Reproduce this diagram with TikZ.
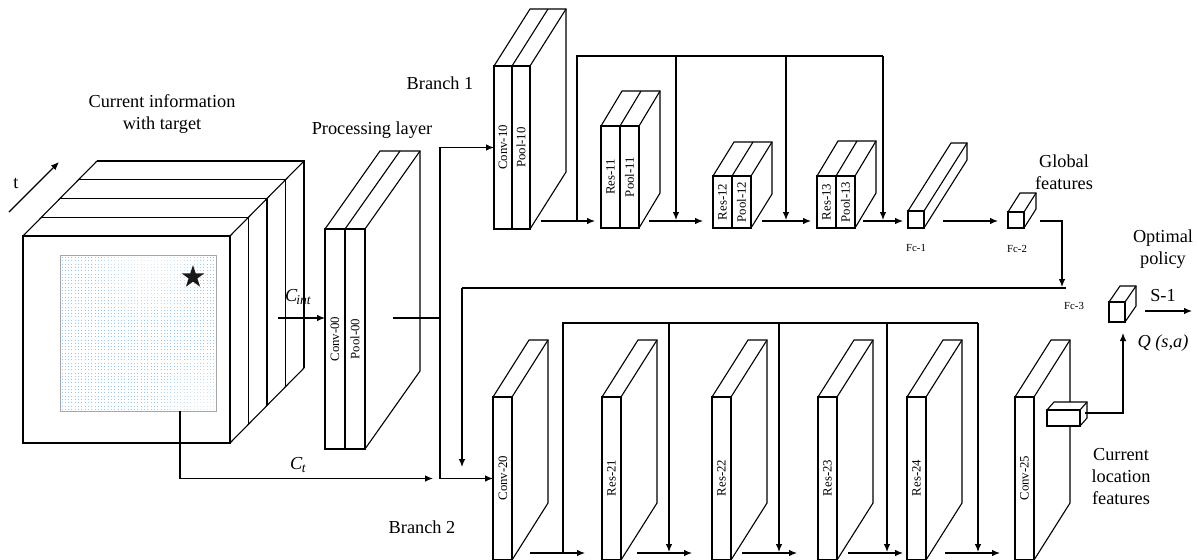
\documentclass[tikz,border=0pt]{standalone}
\usepackage{fontspec}
\setmainfont{Liberation Serif}
\usetikzlibrary{arrows.meta,shapes.geometric}
\tikzset{
  edge/.style={line width=1.1pt, line join=miter},
  face/.style={draw, line width=1.1pt, inner sep=0pt, outer sep=0pt, fill=white},
  arr/.style={line width=1.1pt, -{Latex[length=8pt,width=6.5pt]}},
  conn/.style={line width=1.1pt},
  big/.style={font=\fontsize{18.3}{22}\selectfont, inner sep=0pt, align=center},
  lab/.style={font=\fontsize{12.8}{14}\selectfont, rotate=90, inner sep=0pt},
  tiny/.style={font=\fontsize{10.8}{12}\selectfont, inner sep=0pt},
  dotrow/.style={draw={rgb,255:red,150;green,200;blue,238}, line width=0.9pt, dash pattern=on 1pt off 2.3pt},
}
% single 3D box: name, x, y, w, h, dx, dy
\newcommand{\BoxThreeD}[7]{%
  \fill[white] (#2,#3) -- ++(#6,#7) -- ++(#4,0) -- ++(0,#5) -- ++({-(#6)},{-(#7)}) -- ++({-(#4)},0) -- cycle;
  \node[face, minimum width=#4pt, minimum height=#5pt, anchor=north west] (#1) at (#2,#3) {};
  \draw[edge] (#1.north west) -- ++(#6,#7) -- ++(#4,0) -- ++(0,#5) -- (#1.south east);
  \draw[edge] (#1.north east) -- ++(#6,#7);
}
% double slab: name a, name b, x, y, w, h, dx, dy
\newcommand{\DoubleSlab}[8]{%
  \fill[white] (#3,#4) -- ++(#7,#8) -- ++(2*#5,0) -- ++(0,#6) -- ++({-(#7)},{-(#8)}) -- ++({-2*(#5)},0) -- cycle;
  \node[face, minimum width=#5pt, minimum height=#6pt, anchor=north west] (#1) at (#3,#4) {};
  \node[face, minimum width=#5pt, minimum height=#6pt, anchor=north west] (#2) at (#1.north east) {};
  \draw[edge] (#1.north west) -- ++(#7,#8) -- ++(2*#5,0) -- ++(0,#6) -- (#2.south east);
  \draw[edge] (#1.north east) -- ++(#7,#8);
  \draw[edge] (#2.north east) -- ++(#7,#8);
}
\begin{document}
\begin{tikzpicture}[x=1pt,y=-1pt]
\useasboundingbox (0,0) rectangle (1198,559);

% ---------------- input cube ----------------
\node[face, minimum width=207pt, minimum height=207pt, anchor=north west] (cube) at (23,236) {};
\foreach \k in {1,2,3,4} {
  \draw[edge] (23+18.5*\k, 236-18.75*\k) -- (230+18.5*\k, 236-18.75*\k) -- (230+18.5*\k, 443-18.75*\k);
}
\draw[edge] (cube.north west) -- ++(74,-75);
\draw[edge] (cube.north east) -- ++(74,-75);
\draw[edge] (cube.south east) -- ++(74,-75);

% image inside the cube
\begin{scope}
  \clip (60,255) rectangle (216,411);
  \foreach \yy in {0,...,46} { \draw[dotrow] (61.5,257.5+3.3*\yy) -- (215,257.5+3.3*\yy); }
  \foreach \r in {8,16,...,56} { \fill[white, opacity=0.16] (150,262) circle [radius=\r pt]; }
  \foreach \r in {8,16,...,48} { \fill[white, opacity=0.16] (205,405) circle [radius=\r pt]; }
\end{scope}
\node[draw=black!35, line width=0.7pt, minimum width=156pt, minimum height=156pt, anchor=north west, inner sep=0pt] (img) at (60,255) {};
\node[star, star points=5, star point ratio=2.6, fill=black!90, draw=none, minimum size=24pt, inner sep=0pt] (star) at (193,277) {};

% t arrow
\coordinate (tS) at (9,212);
\coordinate (tE) at (59,162);
\draw[arr] (tS) -- (tE);
\node[big] (tlab) at (16,183) {t};

\node[big] (curinfo) at (162,114) {Current information\\with target};

% ---------------- processing layer ----------------
\DoubleSlab{conv00}{pool00}{325}{229}{20}{220}{55}{-78}
\node[lab] (lconv00) at (conv00.center) {Conv-00};
\node[lab] (lpool00) at (pool00.center) {Pool-00};
\node[big] (proclab) at (372,130) {Processing layer};

% ---------------- branch 1 ----------------
\DoubleSlab{conv10}{pool10}{494}{66}{18}{163}{36}{-57}
\node[lab] (lconv10) at (conv10.center) {Conv-10};
\node[lab] (lpool10) at (pool10.center) {Pool-10};
\DoubleSlab{res11}{pool11}{601}{126}{19}{102}{21}{-35}
\node[lab] (lres11) at (res11.center) {Res-11};
\node[lab] (lpool11) at (pool11.center) {Pool-11};
\DoubleSlab{res12}{pool12}{713}{176}{19}{52}{21}{-34}
\node[lab] (lres12) at (res12.center) {Res-12};
\node[lab] (lpool12) at (pool12.center) {Pool-12};
\DoubleSlab{res13}{pool13}{817}{176}{19}{52}{21}{-35}
\node[lab] (lres13) at (res13.center) {Res-13};
\node[lab] (lpool13) at (pool13.center) {Pool-13};
\BoxThreeD{fc1}{908}{211}{16}{17}{43}{-68}
\BoxThreeD{fc2}{1008}{212}{16}{16}{12}{-19}
\node[tiny] (lfc1) at (916,248) {Fc-1};
\node[tiny] (lfc2) at (1017,249) {Fc-2};
\node[big] (glob) at (1064,172.5) {Global\\features};
\node[big] (br1) at (440,83) {Branch 1};

% ---------------- branch 2 ----------------
\BoxThreeD{conv20}{493}{397}{19}{163}{36}{-57}
\BoxThreeD{res21}{602}{397}{19}{163}{36}{-57}
\BoxThreeD{res22}{712}{397}{19}{163}{36}{-57}
\BoxThreeD{res23}{818}{397}{19}{163}{36}{-57}
\BoxThreeD{res24}{907}{397}{19}{163}{36}{-57}
\BoxThreeD{conv25}{1015}{397}{19}{163}{36}{-57}
\node[lab] (lconv20) at (503,478) {Conv-20};
\node[lab] (lres21) at (611.5,478) {Res-21};
\node[lab] (lres22) at (721.5,478) {Res-22};
\node[lab] (lres23) at (827.5,478) {Res-23};
\node[lab] (lres24) at (916.5,478) {Res-24};
\node[lab] (lconv25) at (1024.5,478) {Conv-25};
\node[big] (br2) at (422,527) {Branch 2};

% current location box and output box
\BoxThreeD{locbox}{1047}{410}{33}{16}{7}{-8}
\node[big] (curloc) at (1121,477) {Current\\location\\features};
\BoxThreeD{fc3}{1109}{302}{16}{20}{11}{-16}
\node[tiny] (lfc3) at (1074,306) {Fc-3};
\node[big] (optpol) at (1163,249) {Optimal\\policy};
\node[big] (s1) at (1163,296) {S-1};
\node[big] (qsa) at (1163,343) {\textit{Q (s,a)}};

% ---------------- connectors ----------------
% C_int
\coordinate (cintS) at (278,318);
\draw[arr] (cintS) -- (cintS -| conv00.west);
\node[big] (cint) at (298,297) {\textit{C}\kern-1pt\raisebox{-0.35ex}{\fontsize{13.5}{14}\selectfont\textit{int}}};
% processing output and split
\coordinate (pout) at (393,318);
\coordinate (split) at (440,318);
\draw[conn] (pout) -- (split);
\draw[arr] (split) |- (conv10.west);
\draw[arr] (split) |- (conv20.west);
% C_t
\coordinate (ctS) at (180,411);
\coordinate (ctE) at (433,478.5);
\draw[arr] (ctS) |- (ctE);
\node[big] (ct) at (298,465) {\textit{C}\kern-0.5pt\raisebox{-0.45ex}{\fontsize{13.5}{14}\selectfont\textit{t}}};

% branch 1 main arrows
\coordinate (b1a) at (541,221);  \coordinate (b1b) at (595,221);
\coordinate (b1c) at (649,221);  \coordinate (b1d) at (703,221);
\coordinate (b1e) at (762,221);  \coordinate (b1f) at (811,221);
\coordinate (b1g) at (863,221);  \coordinate (b1h) at (903,221);
\coordinate (b1i) at (943,221);  \coordinate (b1j) at (998,221);
\draw[arr] (b1a) -- (b1b);
\draw[arr] (b1c) -- (b1d);
\draw[arr] (b1e) -- (b1f);
\draw[arr] (b1g) -- (b1h);
\draw[arr] (b1i) -- (b1j);
% branch 1 skip
\coordinate (s1a) at (577,221);
\coordinate (s1t) at (577,56);
\coordinate (s1e) at (883,56);
\draw[conn] (s1a) -- (s1t) -- (s1e);
\coordinate (s1d1) at (676,56); \coordinate (s1d1e) at (676,220);
\coordinate (s1d2) at (786,56); \coordinate (s1d2e) at (786,220);
\coordinate (s1d3e) at (883,220);
\draw[arr] (s1d1) -- (s1d1e);
\draw[arr] (s1d2) -- (s1d2e);
\draw[arr] (s1e) -- (s1d3e);
% global features to merge line
\coordinate (g1) at (1040,221);
\coordinate (g2) at (1062,287);
\draw[arr] (g1) -| (g2);
\coordinate (mL) at (462,288);
\coordinate (mR) at (1066,288);
\draw[conn] (mL) -- (mR);
\coordinate (mD) at (462,467);
\draw[arr] (mL) -- (mD);

% branch 2 main arrows
\coordinate (b2a) at (530,553);  \coordinate (b2b) at (585,553);
\coordinate (b2c) at (637,553);  \coordinate (b2d) at (692,553);
\coordinate (b2e) at (742,553);  \coordinate (b2f) at (797,553);
\coordinate (b2g) at (848,553);  \coordinate (b2h) at (903,553);
\coordinate (b2i) at (945,553);  \coordinate (b2j) at (1000,553);
\draw[arr] (b2a) -- (b2b);
\draw[arr] (b2c) -- (b2d);
\draw[arr] (b2e) -- (b2f);
\draw[arr] (b2g) -- (b2h);
\draw[arr] (b2i) -- (b2j);
% branch 2 skip
\coordinate (s2a) at (563,553);
\coordinate (s2t) at (563,323);
\coordinate (s2e) at (978,323);
\draw[conn] (s2a) -- (s2t) -- (s2e);
\foreach \xx/\nm in {669/s2d1, 779/s2d2, 887/s2d3} {
  \coordinate (\nm) at (\xx,323);
  \coordinate (\nm e) at (\xx,552);
  \draw[arr] (\nm) -- (\nm e);
}
\coordinate (s2d4e) at (978,552);
\draw[arr] (s2e) -- (s2d4e);

% current location to Q
\coordinate (lq1) at (1085,413);
\coordinate (lq2) at (1123,333);
\draw[arr] (lq1) -| (lq2);
% S-1 output
\coordinate (so1) at (1145,311);
\coordinate (so2) at (1192,311);
\draw[arr] (so1) -- (so2);
\end{tikzpicture}
\end{document}
